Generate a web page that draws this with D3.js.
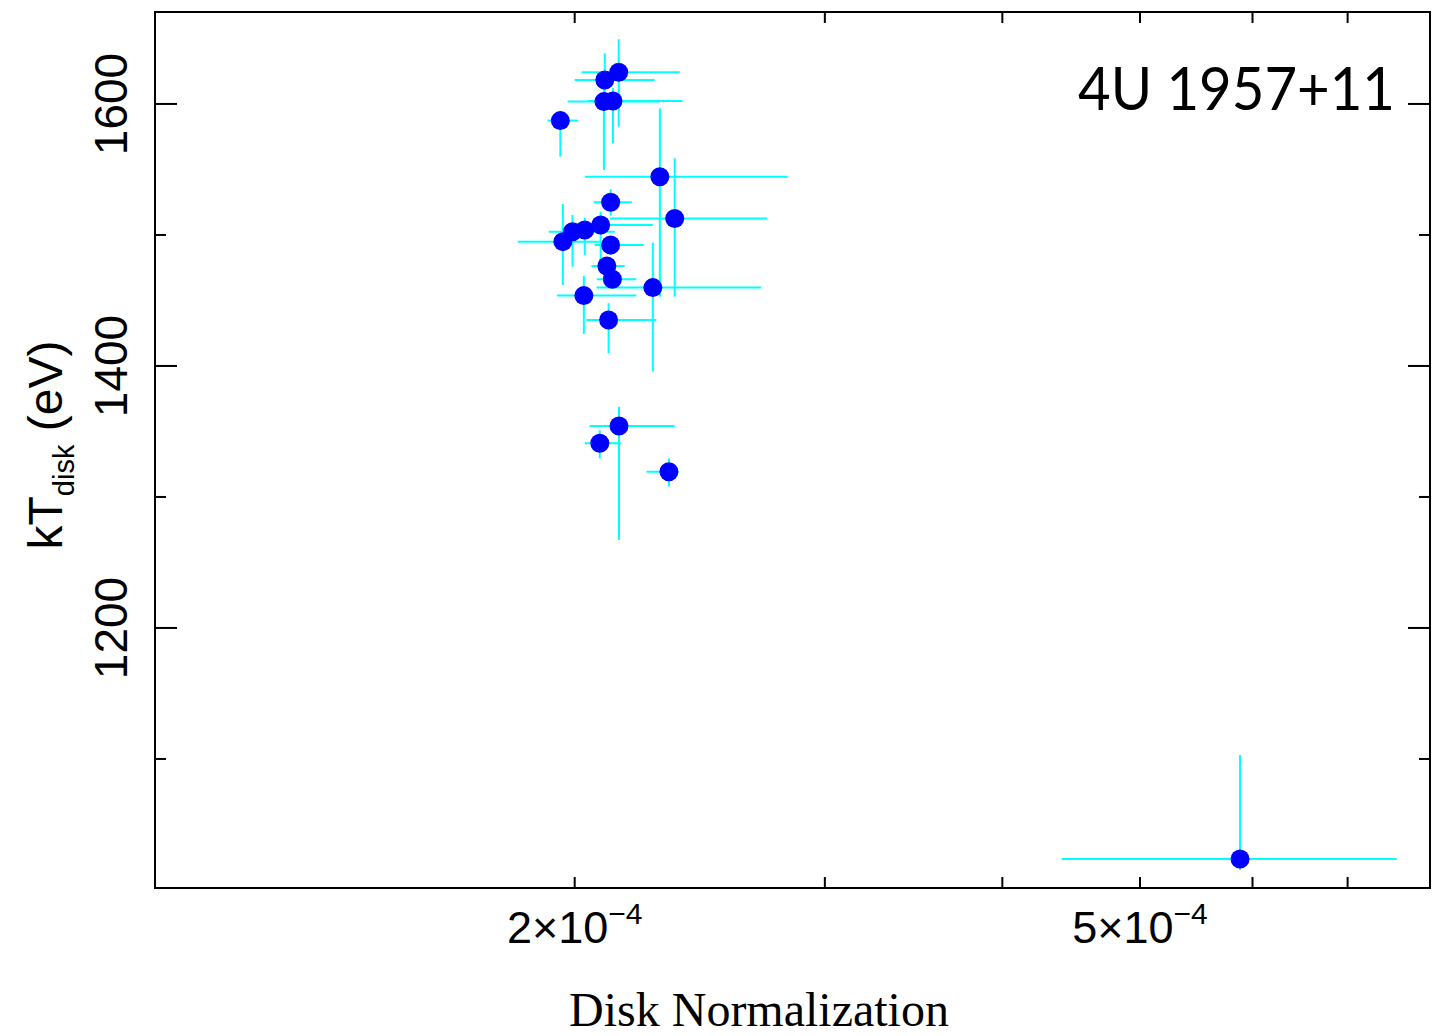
<!DOCTYPE html>
<html lang="en">
<head>
<meta charset="UTF-8">
<style>
  body { margin: 0; background: #fff; }
  svg { display: block; }
</style>
</head>
<body>
<script src="https://d3js.org/d3.v7.min.js"></script>
<script>
// disk normalization (best value, lower, upper) and kT_disk in eV (best, lower, upper)
var normVal = [2.148e-4, 2.100e-4, 2.097e-4, 2.128e-4, 1.954e-4, 2.296e-4, 2.352e-4, 2.120e-4, 1.962e-4, 1.993e-4, 2.033e-4,
               2.086e-4, 2.120e-4, 2.107e-4, 2.126e-4, 2.270e-4, 2.030e-4, 2.113e-4, 2.149e-4, 2.083e-4, 2.330e-4, 5.880e-4]
var normLo  = [2.022e-4, 2.000e-4, 1.977e-4, 2.043e-4, 1.914e-4, 2.033e-4, 2.117e-4, 2.063e-4, 1.824e-4, 1.918e-4, 1.995e-4,
               2.033e-4, 2.066e-4, 2.055e-4, 2.073e-4, 2.072e-4, 1.943e-4, 2.038e-4, 2.049e-4, 2.033e-4, 2.247e-4, 4.405e-4]
var normHi  = [2.371e-4, 2.277e-4, 2.295e-4, 2.382e-4, 2.011e-4, 2.825e-4, 2.732e-4, 2.194e-4, 2.083e-4, 2.134e-4, 2.075e-4,
               2.270e-4, 2.237e-4, 2.169e-4, 2.210e-4, 2.706e-4, 2.210e-4, 2.283e-4, 2.352e-4, 2.157e-4, 2.367e-4, 7.580e-4]
var kT      = [1624.2, 1618.3, 1601.8, 1602.3, 1587.3, 1544.5, 1512.5, 1525.0, 1494.9, 1502.5, 1503.8,
               1507.6, 1492.4, 1476.3, 1466.2, 1459.8, 1453.7, 1435.1, 1354.2, 1341.0, 1319.3, 1023.7]
var kTLo    = [1582.7, 1596.9, 1549.6, 1570.0, 1559.8, 1452.9, 1452.9, 1515.0, 1461.8, 1475.8, 1484.7,
               1470.8, 1484.7, 1469.0, 1461.0, 1395.6, 1424.4, 1409.7, 1267.2, 1329.5, 1307.9, 1015.3]
var kTHi    = [1649.4, 1638.7, 1614.5, 1612.2, 1594.7, 1596.7, 1558.5, 1534.9, 1523.7, 1515.3, 1513.0,
               1517.8, 1498.7, 1483.0, 1471.0, 1494.1, 1468.7, 1447.9, 1368.9, 1351.0, 1329.5, 1103.0]

var xTicks = [2e-4, 3e-4, 4e-4, 5e-4, 6e-4, 7e-4]
var xLabelTicks = [2e-4, 5e-4]
var xLabelMant = ['2', '5']
var yMajor = [1200, 1400, 1600]
var yMinor = [1100, 1300, 1500]

var W = 1447, H = 1036
var pL = 155, pR = 1430, pT = 12, pB = 888

var svg = d3.select('body').append('svg')
    .attr('width', W)
    .attr('height', H)

var x = d3.scaleLog().domain([1.013e-4, 8.0e-4]).range([pL, pR])
var y = d3.scaleLinear().domain([1001.5, 1670.2]).range([pB, pT])

var pts = d3.range(kT.length)

// error bars
var eb = svg.append('g').attr('stroke', '#00ffff').attr('stroke-width', 2)
eb.selectAll('.h').data(pts).enter().append('line')
    .attr('x1', d => x(normLo[d])).attr('x2', d => x(normHi[d]))
    .attr('y1', d => y(kT[d])).attr('y2', d => y(kT[d]))
eb.selectAll('.v').data(pts).enter().append('line')
    .attr('x1', d => x(normVal[d])).attr('x2', d => x(normVal[d]))
    .attr('y1', d => y(kTLo[d])).attr('y2', d => y(kTHi[d]))

// markers
svg.append('g').selectAll('circle').data(pts).enter().append('circle')
    .attr('cx', d => x(normVal[d]))
    .attr('cy', d => y(kT[d]))
    .attr('r', 9.5)
    .attr('fill', '#0000ff')

// frame
svg.append('rect')
    .attr('x', pL).attr('y', pT)
    .attr('width', pR - pL).attr('height', pB - pT)
    .attr('fill', 'none').attr('stroke', '#000').attr('stroke-width', 2)

// ticks (all pointing inward)
var tk = svg.append('g').attr('stroke', '#000').attr('stroke-width', 2)
xTicks.forEach(function (t) {
    tk.append('line').attr('x1', x(t)).attr('x2', x(t)).attr('y1', pB).attr('y2', pB - 11)
    tk.append('line').attr('x1', x(t)).attr('x2', x(t)).attr('y1', pT).attr('y2', pT + 11)
})
yMajor.concat(yMinor).forEach(function (t) {
    var len = yMajor.indexOf(t) >= 0 ? 22 : 11
    tk.append('line').attr('x1', pL).attr('x2', pL + len).attr('y1', y(t)).attr('y2', y(t))
    tk.append('line').attr('x1', pR).attr('x2', pR - len).attr('y1', y(t)).attr('y2', y(t))
})

// x tick labels
xLabelTicks.forEach(function (t, i) {
    var tx = svg.append('text')
        .attr('x', x(t)).attr('y', 943)
        .attr('text-anchor', 'middle')
        .attr('font-family', 'Liberation Sans, Arial, sans-serif')
        .attr('font-size', 45)
    tx.append('tspan').text(xLabelMant[i] + '\u00d710')
    tx.append('tspan').attr('font-size', 30).attr('dy', -19).text('\u22124')
})

// y tick labels
yMajor.forEach(function (t) {
    svg.append('text')
        .attr('transform', 'translate(127,' + y(t) + ') rotate(-90)')
        .attr('text-anchor', 'middle')
        .attr('font-family', 'Liberation Sans, Arial, sans-serif')
        .attr('font-size', 46)
        .text(t)
})

// y axis title
var yl = svg.append('text')
    .attr('transform', 'translate(62,445) rotate(-90)')
    .attr('text-anchor', 'middle')
    .attr('font-family', 'Liberation Sans, Arial, sans-serif')
    .attr('font-size', 48)
yl.append('tspan').text('kT')
yl.append('tspan').attr('font-size', 29).attr('dy', 12).text('disk')
yl.append('tspan').attr('dy', -12).text(' (eV)')

// x axis title
svg.append('text')
    .attr('x', 759).attr('y', 1026)
    .attr('text-anchor', 'middle')
    .attr('font-family', 'Liberation Serif, Times New Roman, serif')
    .attr('font-size', 48)
    .text('Disk Normalization')

// source name
svg.append('text')
    .attr('x', 1395).attr('y', 110)
    .attr('text-anchor', 'end')
    .attr('font-family', 'Lato, sans-serif')
    .attr('font-size', 60)
    .attr('textLength', 317)
    .attr('lengthAdjust', 'spacingAndGlyphs')
    .text('4U 1957+11')
</script>
</body>
</html>
